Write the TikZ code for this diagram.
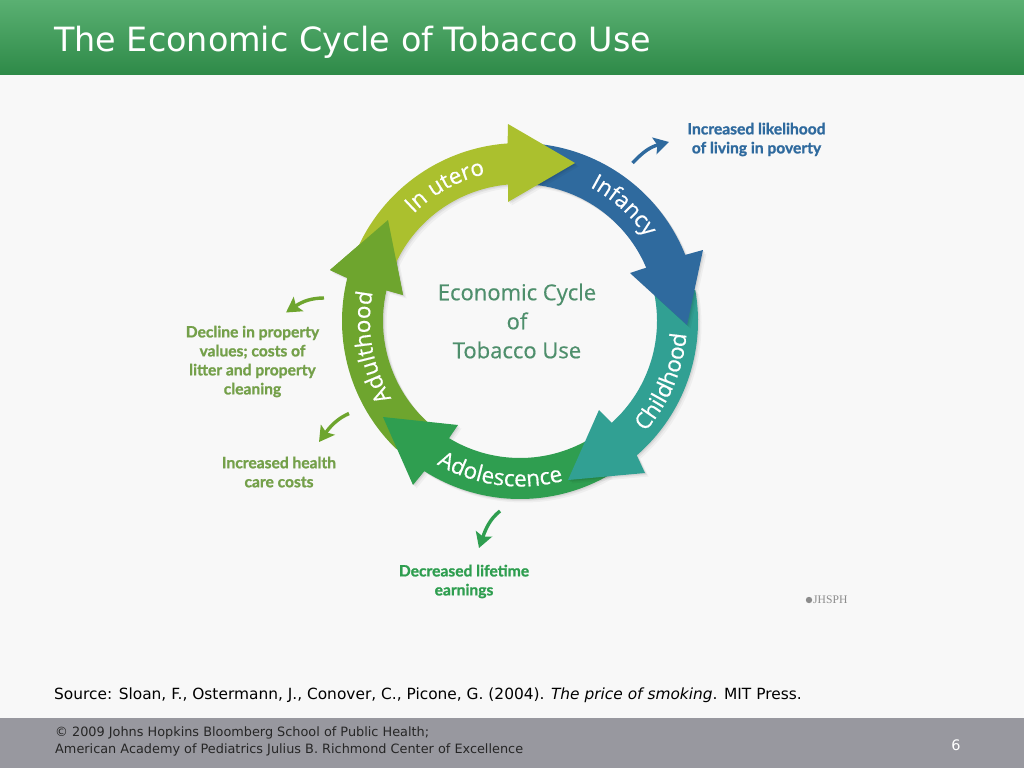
\documentclass[tikz,border=0pt]{standalone}
\usepackage{fontspec}
\usetikzlibrary{calc,arrows.meta,decorations.text}
\setmainfont{DejaVu Sans}
\newfontfamily\diag{Open Sans}[FakeBold=0.5]
\newfontfamily\diagb{Lato}[BoldFont={Lato Bold},BoldFeatures={FakeBold=1.2}]
\newfontfamily\logo{Liberation Serif}
\definecolor{bgc}{HTML}{F8F8F8}
\definecolor{barT}{HTML}{5AB072}
\definecolor{barB}{HTML}{2E8A48}
\definecolor{footc}{HTML}{98989F}
\definecolor{utero}{HTML}{ABC02E}
\definecolor{infancy}{HTML}{2F6A9E}
\definecolor{child}{HTML}{31A093}
\definecolor{adol}{HTML}{2F9E50}
\definecolor{adult}{HTML}{6EA52E}
\definecolor{adultt}{HTML}{74A04A}
\definecolor{centert}{HTML}{4E8F6C}
\tikzset{
  lbl/.style={text=#1,font=\diagb\bfseries\fontsize{15.6}{19}\selectfont,align=center,inner sep=0pt},
  centerlbl/.style={text=centert,font=\diag\fontsize{22}{29}\selectfont,align=center,inner sep=0pt},
  small/.style={draw=#1,line width=3.4pt,-{Stealth[length=15pt,width=17pt,inset=3pt]}},
}
\newcommand\ringtext[4]{% radius, start, end, text
  \path[decorate,decoration={text along path,text align=center,text color=white,
    text={|\diag\fontsize{22.5}{22.5}\selectfont|#4}}]
    ($(C)+(#2:#1pt)$) arc[start angle=#2,end angle=#3,radius=#1pt];}
\newcommand\pUtero{($(C)+(155:178pt)$) arc[start angle=155,end angle=94,radius=178pt] -- (508,124) -- (575,163) -- (508,202) -- ($(C)+(95:137pt)$) arc[start angle=95,end angle=160,radius=137pt] -- cycle}
\newcommand\pInfancy{($(C)+(85:178pt)$) arc[start angle=85,end angle=21.8,radius=178pt] -- (703,250) -- (687,325) -- (630,273) -- ($(C)+(22.9:137pt)$) arc[start angle=22.9,end angle=85,radius=137pt] -- cycle}
\newcommand\pChild{($(C)+(10:178pt)$) arc[start angle=10,end angle=-49,radius=178pt] -- (645,473) -- (568,480) -- (599,410) -- ($(C)+(-48:137pt)$) arc[start angle=-48,end angle=14,radius=137pt] -- cycle}
\newcommand\pAdol{($(C)+(-60:178pt)$) arc[start angle=-60,end angle=-122.5,radius=178pt] -- (413,485) -- (383,417) -- (458,425) -- ($(C)+(-121.2:137pt)$) arc[start angle=-121.2,end angle=-55,radius=137pt] -- cycle}
\newcommand\pAdult{($(C)+(226:178pt)$) arc[start angle=226,end angle=166,radius=178pt] -- (330,270) -- (388,220) -- (403,295) -- ($(C)+(167:137pt)$) arc[start angle=167,end angle=230,radius=137pt] -- cycle}
\newcommand\shadowed[2]{%
  \foreach \d/\o in {1/.06,2/.05,3.5/.04}{
    \begin{scope}[transform canvas={shift={(\d pt,-\d pt)}}]
      \fill[black,opacity=\o] #1;
    \end{scope}}
  \fill[#2] #1;}
\begin{document}
\begin{tikzpicture}[x=1pt,y=-1pt]
\useasboundingbox (0,0) rectangle (1024,768);
\fill[bgc] (0,0) rectangle (1024,768);
\shade[top color=barT,bottom color=barB] (0,0) rectangle (1024,74.5);
\fill[footc] (0,718) rectangle (1024,768);
\node[anchor=west,inner sep=0pt,text=white,font=\fontsize{33.4}{36}\selectfont] (title) at (54,42.5) {The Economic Cycle of Tobacco Use};
\coordinate (C) at (520,321);
% ring
\shadowed{\pAdult}{adult}
\shadowed{\pAdol}{adol}
\shadowed{\pChild}{child}
\shadowed{\pInfancy}{infancy}
\shadowed{\pUtero}{utero}
\fill[adult] (330,270) -- (388,220) -- (403,295) -- (385,290) -- (345,277) -- cycle;
\ringtext{151}{149}{89}{In utero}
\ringtext{151}{88}{8}{Infancy}
\ringtext{167}{-63}{17}{Childhood}
\ringtext{165.5}{-137}{-58}{Adolescence}
\ringtext{150}{230}{150}{Adulthood}
\node[centerlbl] (center) at (517,321) {Economic Cycle\\of\\Tobacco Use};
% outcome labels
\node[lbl=infancy] (poverty) at (756.5,139.5) {Increased likelihood\\of living in poverty};
\node[lbl=adultt] (property) at (252.5,361.5) {Decline in property\\values; costs of\\litter and property\\cleaning};
\node[lbl=adultt] (health) at (279,472) {Increased health\\care costs};
\node[lbl=adol] (earnings) at (464,581.5) {Decreased lifetime\\earnings};
% small arrows
\coordinate (a1) at (632.5,163); \coordinate (a2) at (669,142);
\draw[small=infancy] (a1) .. controls (643,152) and (650,147) .. (a2);
\coordinate (b1) at (324,298); \coordinate (b2) at (286,312.5);
\draw[small=adult] (b1) .. controls (312,298) and (303,301) .. (b2);
\coordinate (c1) at (349,413.5); \coordinate (c2) at (319,442);
\draw[small=adult] (c1) .. controls (339,418) and (332,424) .. (c2);
\coordinate (d1) at (500,511); \coordinate (d2) at (479,548);
\draw[small=adol] (d1) .. controls (490,519) and (486,528) .. (d2);
% logo
\fill[black!45] (809,600) circle (3.2pt);
\node[anchor=west,inner sep=0pt,text=black!45,font=\logo\fontsize{11.6}{12}\selectfont] (jhsph) at (813,600) {JHSPH};
% source and footer
\node[anchor=west,inner sep=0pt,text=black,font=\fontsize{15.4}{16}\selectfont] (source) at (54,695) {Source: Sloan, F., Ostermann, J., Conover, C., Picone, G. (2004). \textit{The price of smoking}. MIT Press.};
\node[anchor=north west,inner sep=0pt,text=black!85,align=left,font=\fontsize{12.85}{17}\selectfont] (foot) at (55,727) {© 2009 Johns Hopkins Bloomberg School of Public Health;\\American Academy of Pediatrics Julius B. Richmond Center of Excellence};
\node[inner sep=0pt,text=white,font=\fontsize{14.5}{16}\selectfont] (page) at (956,745) {6};
\end{tikzpicture}
\end{document}
